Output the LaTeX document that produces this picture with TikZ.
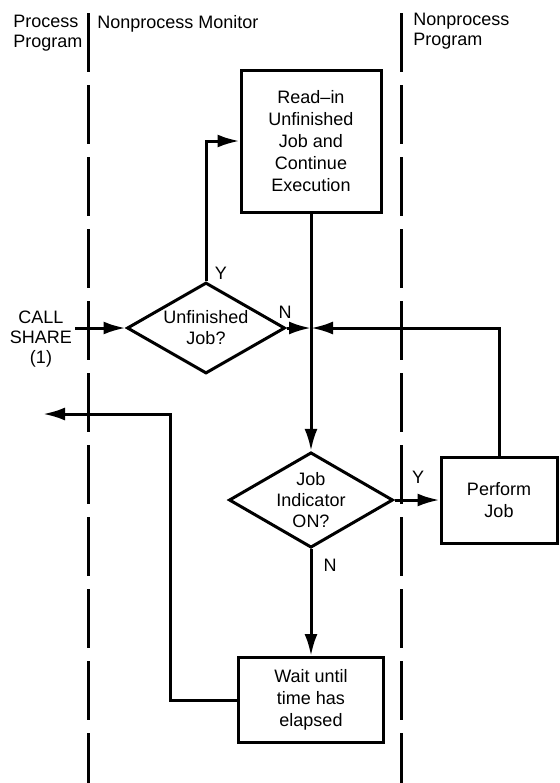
\documentclass[tikz,border=0pt]{standalone}
\usepackage{fontspec}
\setmainfont{Liberation Sans}
\usepackage{tikz}
\usetikzlibrary{positioning, arrows.meta, shapes.geometric, calc}
\tikzset{
  blok/.style={draw, line width=1.5pt, align=center, inner sep=2pt,
               font=\fontsize{9}{11}\selectfont},
  dia/.style={diamond, aspect=1.72, draw, line width=1.5pt, align=center,
              inner sep=0pt, minimum width=79pt, minimum height=45.5pt,
              font=\fontsize{9}{10.5}\selectfont},
  flow/.style={-{Latex[length=11pt, width=6.5pt]}, line width=1.5pt},
  lane/.style={line width=1.5pt, dash pattern=on 29.5pt off 6.5pt},
  hdr/.style={align=left, anchor=north west, inner sep=0pt,
              font=\fontsize{9}{10}\selectfont},
  tag/.style={align=center, inner sep=0pt, font=\fontsize{9}{10}\selectfont},
}

\begin{document}
\begin{tikzpicture}[x=0.5pt, y=-0.5pt]
  \useasboundingbox (0,0) rectangle (559,783);
  % lanes
  \node[hdr] (hproc) at (13,15) {Process\\Program};
  \node[hdr] (hmon) at (97,15) {Nonprocess Monitor};
  \node[hdr] (hnon) at (413,13) {Nonprocess\\Program};
  \draw[lane] (88,13) -- (88,783);
  \draw[lane] (401,13) -- (401,783);
  % boxes and decisions
  \node[blok, minimum width=70pt, minimum height=71pt] (readin) at (311,141)
    {Read--in\\Unfinished\\Job and\\Continue\\Execution};
  \node[dia] (unfin) at (206,328) {Unfinished\\Job?};
  \node[dia] (jobind) at (311,500) {Job\\Indicator\\ON?};
  \node[blok, minimum width=58pt, minimum height=43pt] (perform) at (499,500) {Perform\\Job};
  \node[blok, minimum width=72.5pt, minimum height=42.5pt] (wait) at (311,700)
    {Wait until\\time has\\elapsed};
  \node[tag] (call) at (41,339) {CALL\\SHARE\\(1)};
  % free ends
  \coordinate (callin) at (75,328);
  \coordinate (jn) at (readin.south |- unfin.east);
  \coordinate (bend) at (170,414);
  \coordinate (back) at (43,414);
  % connectors
  \draw[flow] (callin) -- (unfin.west);
  \draw[flow] (unfin.north) |- (readin.west);
  \draw[flow] (unfin.east) -- (jn);
  \draw[flow] (perform.north) |- (jn);
  \draw[flow] (readin.south) -- (jobind.north);
  \draw[flow] (jobind.east) -- (perform.west);
  \draw[flow] (jobind.south) -- (wait.north);
  \draw[flow] (wait.west) -| (bend) -- (back);
  % answers
  \node[tag] (y1) at (221,273) {Y};
  \node[tag] (n1) at (285,312) {N};
  \node[tag] (y2) at (418,477) {Y};
  \node[tag] (n2) at (330,565) {N};
\end{tikzpicture}
\end{document}
